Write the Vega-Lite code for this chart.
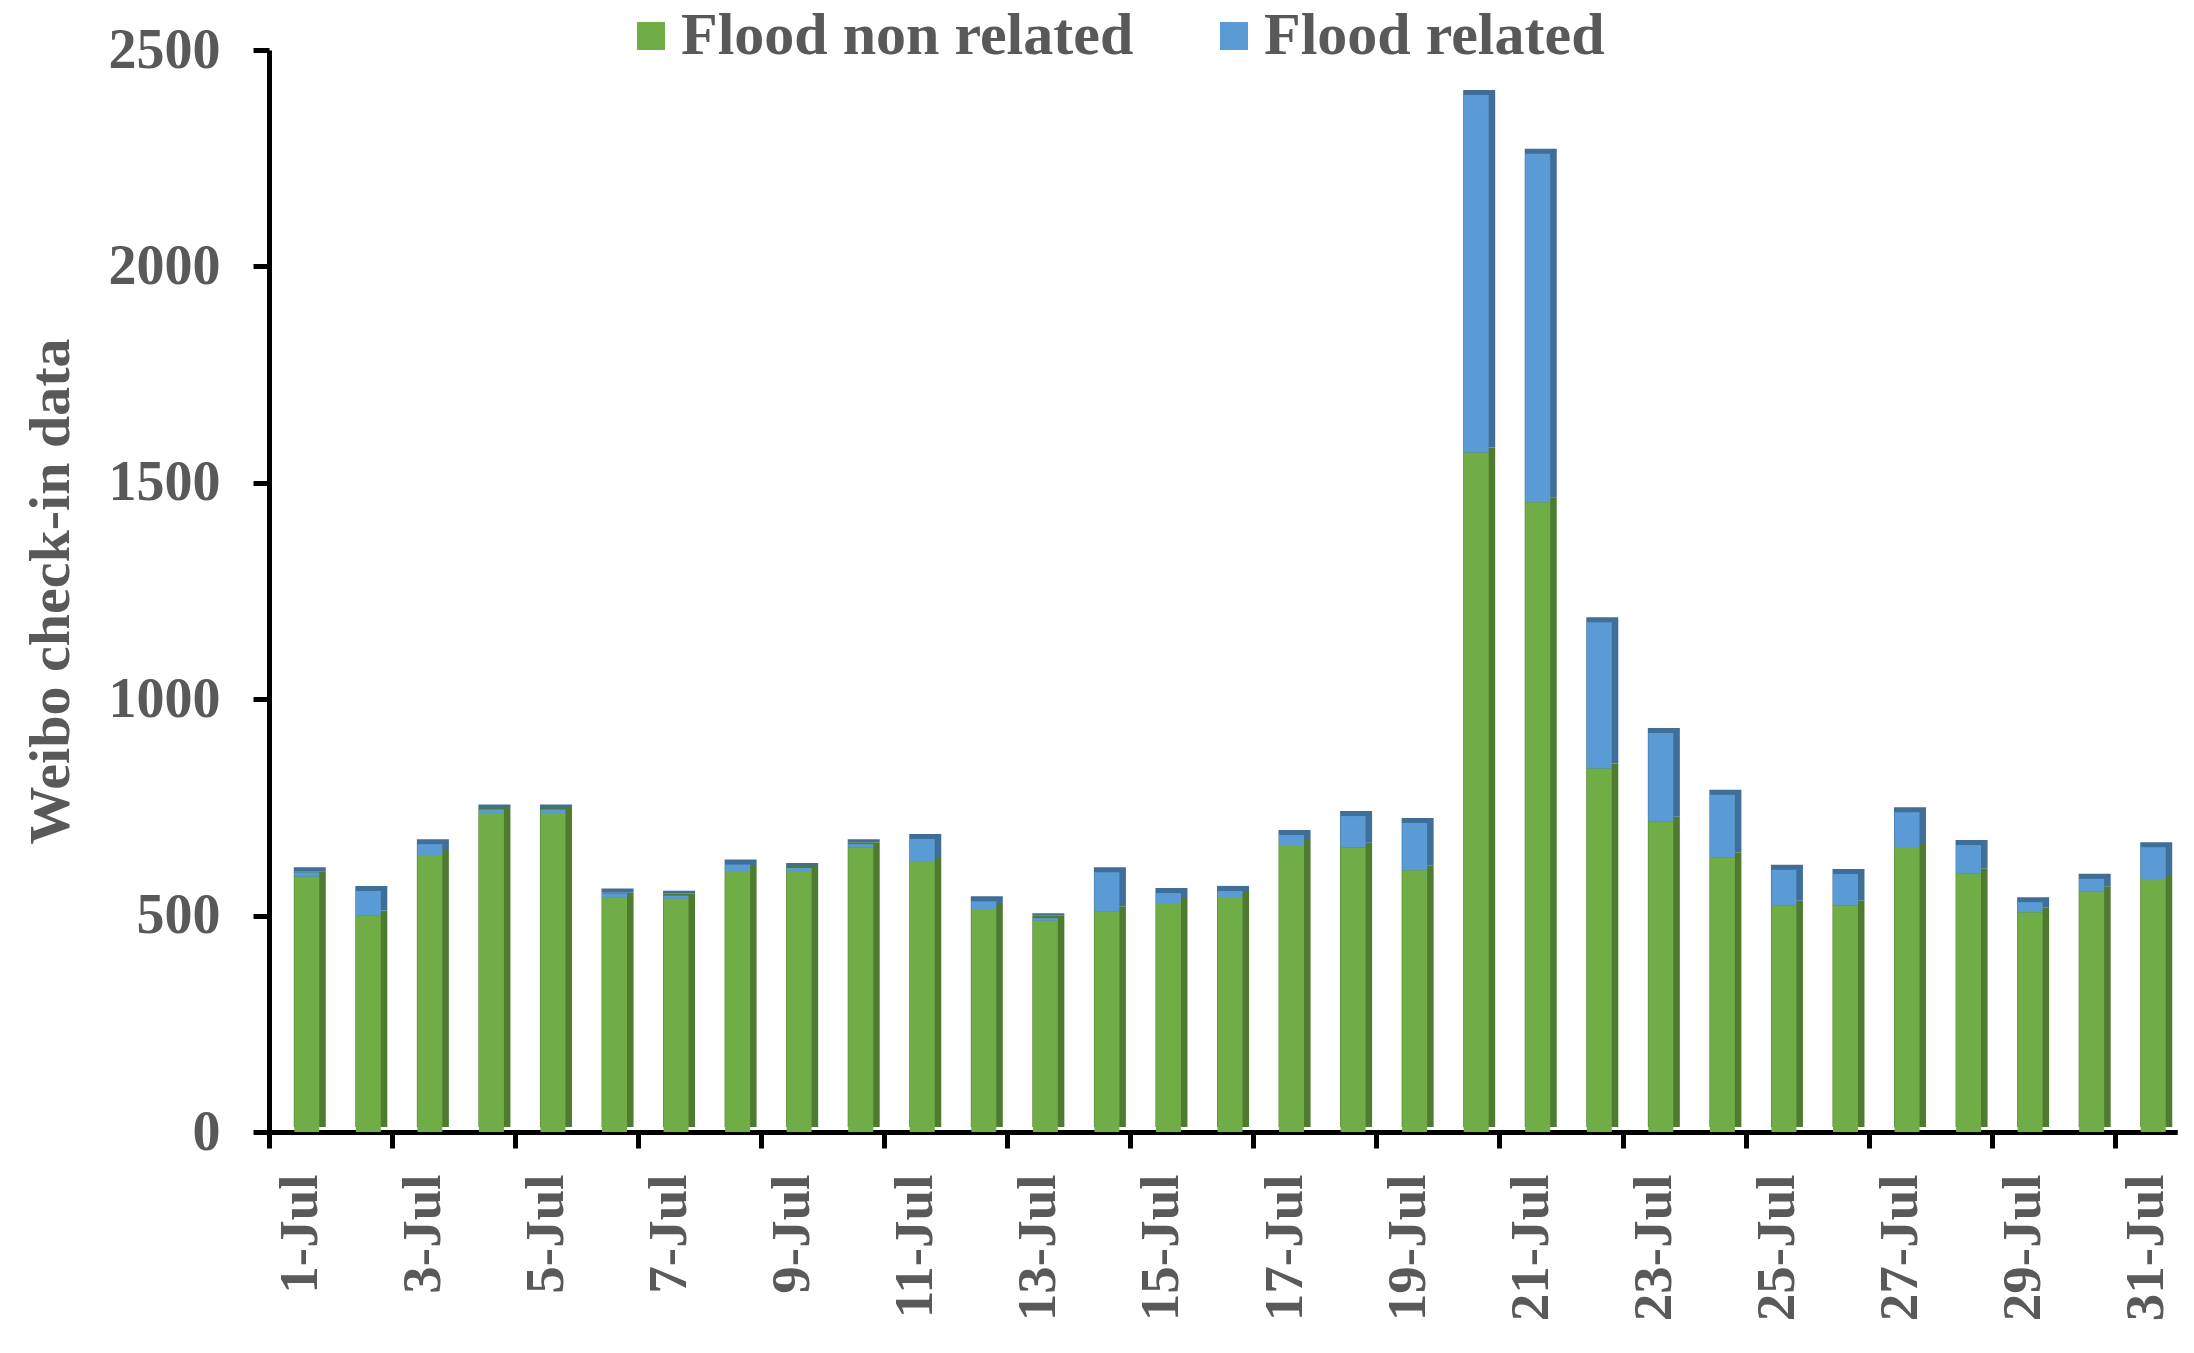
{
  "$schema": "https://vega.github.io/schema/vega-lite/v6.json",
  "autosize": {"type": "none"},
  "width": 1908,
  "height": 1082,
  "padding": {"left": 269, "top": 50, "right": 17, "bottom": 221},
  "background": "white",
  "config": {
    "view": {"stroke": null},
    "font": "Liberation Serif",
    "axis": {
      "labelFont": "Liberation Serif",
      "labelFontWeight": "bold",
      "labelColor": "#595959",
      "titleFont": "Liberation Serif",
      "titleFontWeight": "bold",
      "titleColor": "#595959",
      "tickSize": 16,
      "tickWidth": 5,
      "tickColor": "black",
      "domainColor": "black",
      "domainWidth": 5,
      "grid": false
    },
    "axisX": {
      "labelAngle": 270,
      "labelFontSize": 55,
      "labelPadding": 24
    },
    "axisY": {
      "labelFontSize": 56,
      "labelPadding": 33,
      "titleFontSize": 58,
      "titlePadding": 28
    }
  },
  "data": {
    "values": [
      {"day": "1-Jul", "type": "Flood non related", "value": 590}, {"day": "1-Jul", "type": "Flood related", "value": 10},
      {"day": "2-Jul", "type": "Flood non related", "value": 500}, {"day": "2-Jul", "type": "Flood related", "value": 57},
      {"day": "3-Jul", "type": "Flood non related", "value": 640}, {"day": "3-Jul", "type": "Flood related", "value": 25},
      {"day": "4-Jul", "type": "Flood non related", "value": 737}, {"day": "4-Jul", "type": "Flood related", "value": 8},
      {"day": "5-Jul", "type": "Flood non related", "value": 737}, {"day": "5-Jul", "type": "Flood related", "value": 8},
      {"day": "6-Jul", "type": "Flood non related", "value": 541}, {"day": "6-Jul", "type": "Flood related", "value": 10},
      {"day": "7-Jul", "type": "Flood non related", "value": 539}, {"day": "7-Jul", "type": "Flood related", "value": 7},
      {"day": "8-Jul", "type": "Flood non related", "value": 603}, {"day": "8-Jul", "type": "Flood related", "value": 15},
      {"day": "9-Jul", "type": "Flood non related", "value": 603}, {"day": "9-Jul", "type": "Flood related", "value": 7},
      {"day": "10-Jul", "type": "Flood non related", "value": 658}, {"day": "10-Jul", "type": "Flood related", "value": 7},
      {"day": "11-Jul", "type": "Flood non related", "value": 624}, {"day": "11-Jul", "type": "Flood related", "value": 53},
      {"day": "12-Jul", "type": "Flood non related", "value": 515}, {"day": "12-Jul", "type": "Flood related", "value": 18},
      {"day": "13-Jul", "type": "Flood non related", "value": 488}, {"day": "13-Jul", "type": "Flood related", "value": 6},
      {"day": "14-Jul", "type": "Flood non related", "value": 510}, {"day": "14-Jul", "type": "Flood related", "value": 90},
      {"day": "15-Jul", "type": "Flood non related", "value": 529}, {"day": "15-Jul", "type": "Flood related", "value": 23},
      {"day": "16-Jul", "type": "Flood non related", "value": 543}, {"day": "16-Jul", "type": "Flood related", "value": 14},
      {"day": "17-Jul", "type": "Flood non related", "value": 663}, {"day": "17-Jul", "type": "Flood related", "value": 23},
      {"day": "18-Jul", "type": "Flood non related", "value": 657}, {"day": "18-Jul", "type": "Flood related", "value": 73},
      {"day": "19-Jul", "type": "Flood non related", "value": 605}, {"day": "19-Jul", "type": "Flood related", "value": 109},
      {"day": "20-Jul", "type": "Flood non related", "value": 1570}, {"day": "20-Jul", "type": "Flood related", "value": 826},
      {"day": "21-Jul", "type": "Flood non related", "value": 1455}, {"day": "21-Jul", "type": "Flood related", "value": 805},
      {"day": "22-Jul", "type": "Flood non related", "value": 840}, {"day": "22-Jul", "type": "Flood related", "value": 338},
      {"day": "23-Jul", "type": "Flood non related", "value": 717}, {"day": "23-Jul", "type": "Flood related", "value": 205},
      {"day": "24-Jul", "type": "Flood non related", "value": 635}, {"day": "24-Jul", "type": "Flood related", "value": 144},
      {"day": "25-Jul", "type": "Flood non related", "value": 523}, {"day": "25-Jul", "type": "Flood related", "value": 83},
      {"day": "26-Jul", "type": "Flood non related", "value": 523}, {"day": "26-Jul", "type": "Flood related", "value": 73},
      {"day": "27-Jul", "type": "Flood non related", "value": 656}, {"day": "27-Jul", "type": "Flood related", "value": 83},
      {"day": "28-Jul", "type": "Flood non related", "value": 598}, {"day": "28-Jul", "type": "Flood related", "value": 65},
      {"day": "29-Jul", "type": "Flood non related", "value": 508}, {"day": "29-Jul", "type": "Flood related", "value": 23},
      {"day": "30-Jul", "type": "Flood non related", "value": 556}, {"day": "30-Jul", "type": "Flood related", "value": 29},
      {"day": "31-Jul", "type": "Flood non related", "value": 582}, {"day": "31-Jul", "type": "Flood related", "value": 76}
    ]
  },
  "layer": [
    {
      "mark": {"type": "bar", "size": 32, "xOffset": 10, "yOffset": -5},
      "encoding": {
        "x": {
          "field": "day", "type": "ordinal", "sort": null,
          "scale": {"paddingInner": 0, "paddingOuter": 0},
          "axis": {"orient": "bottom", "title": null, "values": ["1-Jul","3-Jul","5-Jul","7-Jul","9-Jul","11-Jul","13-Jul","15-Jul","17-Jul","19-Jul","21-Jul","23-Jul","25-Jul","27-Jul","29-Jul","31-Jul"], "bandPosition": 0, "labels": false, "ticks": true}
        },
        "y": {
          "field": "value", "type": "quantitative", "stack": "zero",
          "scale": {"domain": [0, 2500], "nice": false},
          "axis": {"title": "Weibo check-in data", "values": [0, 500, 1000, 1500, 2000, 2500], "format": "d"}
        },
        "order": {"field": "type", "sort": "ascending"},
        "color": {"field": "type", "type": "nominal", "scale": {"domain": ["Flood non related", "Flood related"], "range": ["#4E7B30", "#3F6E98"]}, "legend": null}
      }
    },
    {
      "mark": {"type": "bar", "size": 25, "xOffset": 7},
      "encoding": {
        "x": {
          "field": "day", "type": "ordinal", "sort": null,
          "scale": {"paddingInner": 0, "paddingOuter": 0},
          "axis": {"orient": "bottom", "title": null, "values": ["1-Jul","3-Jul","5-Jul","7-Jul","9-Jul","11-Jul","13-Jul","15-Jul","17-Jul","19-Jul","21-Jul","23-Jul","25-Jul","27-Jul","29-Jul","31-Jul"], "ticks": false, "labelPadding": 42}
        },
        "y": {
          "field": "value", "type": "quantitative", "stack": "zero",
          "scale": {"domain": [0, 2500], "nice": false},
          "axis": {"title": "Weibo check-in data", "values": [0, 500, 1000, 1500, 2000, 2500], "format": "d"}
        },
        "order": {"field": "type", "sort": "ascending"},
        "color": {
          "field": "type", "type": "nominal",
          "scale": {"domain": ["Flood non related", "Flood related"], "range": ["#70AD47", "#5B9BD5"]},
          "legend": {
            "title": null,
            "orient": "none",
            "direction": "horizontal",
            "legendX": 352,
            "legendY": -44,
            "padding": 0,
            "symbolType": "square",
            "symbolSize": 784,
            "symbolStrokeWidth": 0,
            "labelFont": "Liberation Serif",
            "labelFontWeight": "bold",
            "labelFontSize": 60,
            "labelColor": "#595959",
            "labelOffset": 0,
            "labelLimit": 1000,
            "columnPadding": 70
          }
        }
      }
    }
  ],
  "resolve": {"scale": {"color": "independent"}, "axis": {"x": "independent"}}
}
